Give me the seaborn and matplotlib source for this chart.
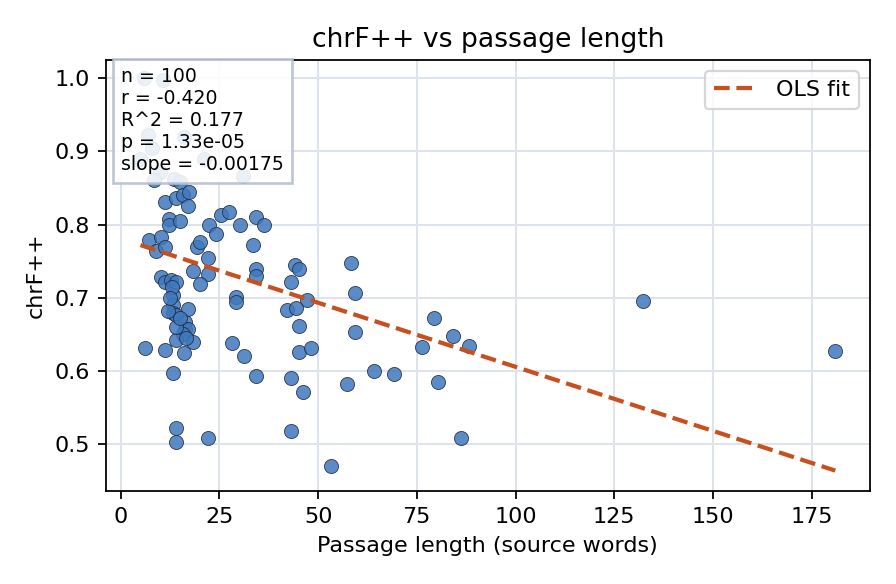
import numpy as np
import pandas as pd
import matplotlib
matplotlib.use("Agg")
import matplotlib.pyplot as plt
import seaborn as sns

passage_len = [
    6, 10.7, 5, 7, 8, 16, 21, 10, 31, 8.5, 13.5, 15,
    11.2, 13.9, 15.8, 17.3, 17.1, 12.2, 12.2, 15.1, 22.3, 24.2, 25.3, 27.3,
    30.2, 34.3, 36.2, 33.4, 7.1, 10.3, 9.0, 11.2, 19.2, 20.2, 22.1, 18.2,
    22.1, 20.0, 10.3, 11.3, 12.8, 14.1, 13.3, 29.3, 29.3, 13.3, 17.1, 13.3,
    14.1, 16.2, 16.2, 17.1, 15.8, 14.1, 18.2, 6.1, 11.2, 16.0, 13.3, 28.2,
    31.2, 34.2, 13.9, 13.9, 22.1, 34.2, 34.2,
    44.1, 45.2, 43.2, 47.2, 42.2, 44.3, 45.2, 45.2, 48.2, 43.2, 46.2, 43.2,
    53.2, 58.4, 59.4, 59.4, 57.2, 64.1, 69.2, 79.4, 76.3, 84.2, 88.2, 80.4,
    86.2, 132.4, 181,
    14.0, 15.0, 12.0, 16.5, 13.0, 12.5,
]
chrf = [
    1.000, 0.997, 0.890, 0.922, 0.904, 0.920, 0.889, 0.872, 0.867, 0.861, 0.862, 0.858,
    0.831, 0.836, 0.840, 0.844, 0.825, 0.808, 0.799, 0.805, 0.799, 0.787, 0.813, 0.817,
    0.800, 0.811, 0.800, 0.772, 0.779, 0.783, 0.764, 0.770, 0.770, 0.776, 0.755, 0.736,
    0.733, 0.719, 0.729, 0.722, 0.724, 0.721, 0.704, 0.701, 0.694, 0.690, 0.685, 0.679,
    0.676, 0.667, 0.658, 0.658, 0.651, 0.642, 0.640, 0.632, 0.629, 0.624, 0.597, 0.638,
    0.620, 0.593, 0.522, 0.503, 0.508, 0.739, 0.730,
    0.745, 0.740, 0.721, 0.697, 0.683, 0.686, 0.661, 0.626, 0.631, 0.591, 0.571, 0.518,
    0.471, 0.747, 0.707, 0.654, 0.582, 0.600, 0.596, 0.672, 0.633, 0.648, 0.634, 0.585,
    0.508, 0.696, 0.627,
    0.660, 0.672, 0.682, 0.645, 0.715, 0.700,
]

fit_slope = -0.00175
fit_intercept = 0.7808

stats_lines = ["n = 100", "r = -0.420", "R^2 = 0.177", "p = 1.33e-05", "slope = -0.00175"]

df = pd.DataFrame({"len": passage_len, "chrf": chrf})
xs = np.array([min(passage_len), max(passage_len)])
fit_df = pd.DataFrame({"len": xs, "chrf": fit_intercept + fit_slope * xs})

plt.rcParams["font.family"] = ["DejaVu Sans"]
fig, ax = plt.subplots(figsize=(5.6, 3.65), dpi=160)
ax.set_axisbelow(True)
ax.grid(True, color="#dde3ec", linewidth=0.9)

sns.scatterplot(data=df, x="len", y="chrf", ax=ax, s=40, color="#3f78bd",
                alpha=0.85, edgecolor="#1f2a3a", linewidth=0.4, zorder=3)
sns.lineplot(data=fit_df, x="len", y="chrf", ax=ax, color="#c8501e",
             linestyle="--", linewidth=1.9, label="OLS fit", zorder=4)

ax.set_title("chrF++ vs passage length", fontsize=12)
ax.set_xlabel("Passage length (source words)", fontsize=10)
ax.set_ylabel("chrF++", fontsize=10)
ax.tick_params(labelsize=10)
ax.set_xticks([0, 25, 50, 75, 100, 125, 150, 175])
ax.set_yticks([0.5, 0.6, 0.7, 0.8, 0.9, 1.0])
ax.set_ylim(0.436, 1.0246)
ax.set_xlim(-3.8, 189.8)

ax.text(0.02, 0.983, "\n".join(stats_lines), transform=ax.transAxes, fontsize=8.5,
        va="top", ha="left", zorder=5,
        bbox=dict(boxstyle="square,pad=0.45", facecolor="white", alpha=0.88,
                  edgecolor="#b4c0cf", linewidth=1.2))
ax.legend(loc="upper right", fontsize=10)

fig.subplots_adjust(left=0.118, right=0.971, top=0.897, bottom=0.159)
fig.savefig("out.png", dpi=160)
